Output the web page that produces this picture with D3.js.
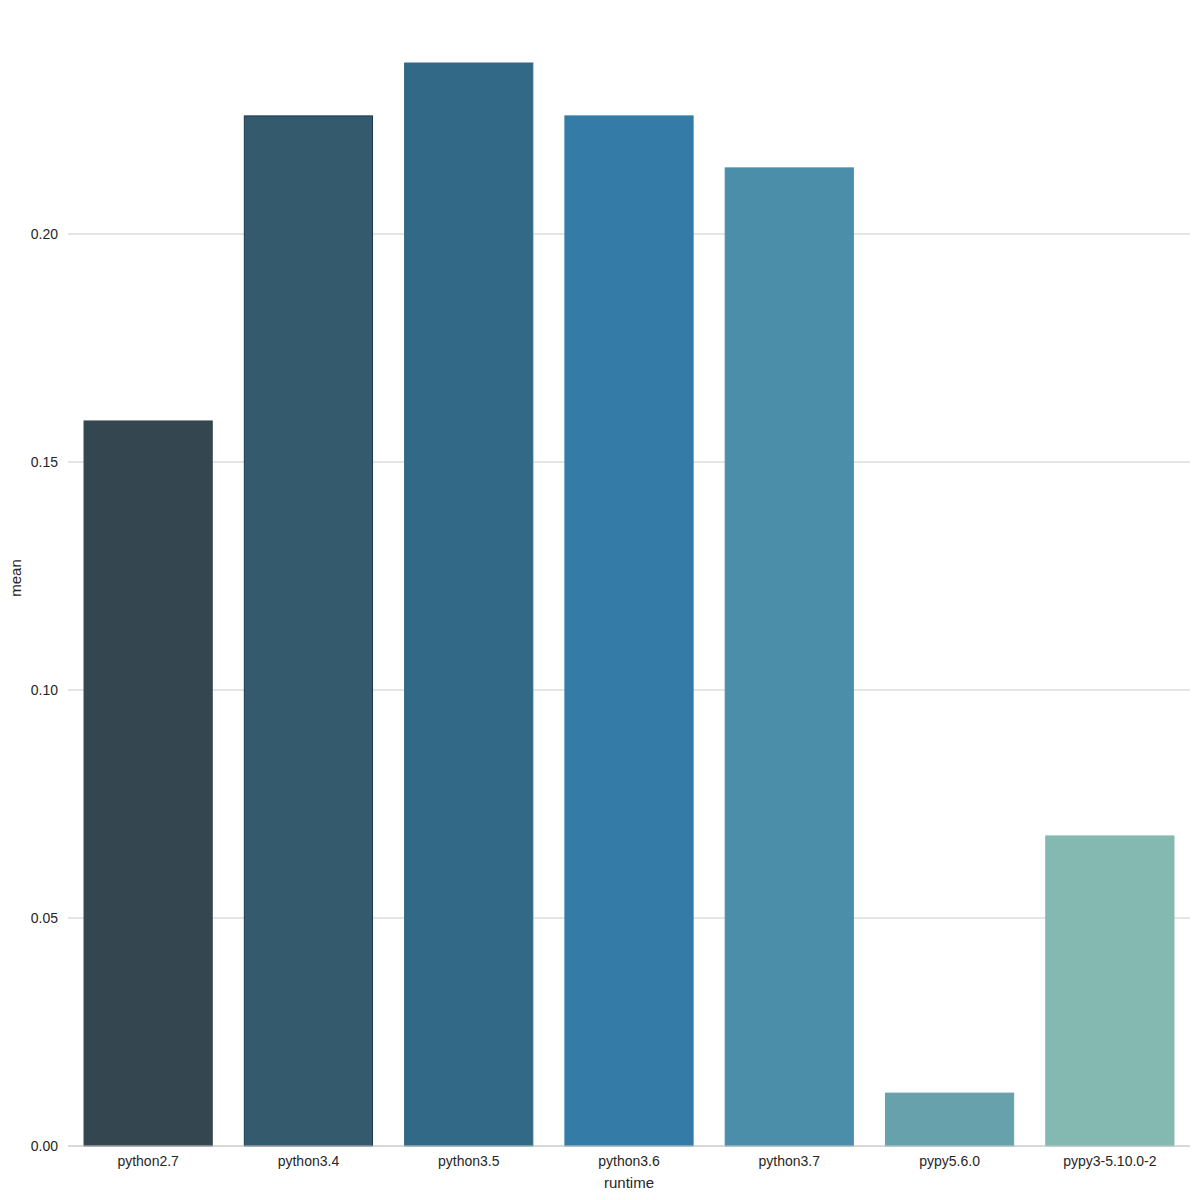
<!DOCTYPE html>
<html><head><meta charset="utf-8">
<script src="https://cdn.jsdelivr.net/npm/d3@7"></script>
<style>body{margin:0;background:#fff;} text{font-family:"Liberation Sans",Arial,sans-serif;}</style>
</head><body>
<svg id="chart" width="1200" height="1200"></svg>
<script>
const categories = ["python2.7","python3.4","python3.5","python3.6","python3.7","pypy5.6.0","pypy3-5.10.0-2"];
const means = [0.1590, 0.2259, 0.2375, 0.2259, 0.2145, 0.0116, 0.0680];
const barColors = ["#34464f","#335a6d","#326987","#347ca7","#4a8eaa","#67a1ab","#83b9b0"];
const edgeColors = ["#34464f","#1b3550","#326987","#347ca7","#4a8eaa","#67a1ab","#83b9b0"];
const yTicks = [0.00,0.05,0.10,0.15,0.20];

const svg = d3.select("#chart");
const m = {left:68, right:1190, top:20, bottom:1146};
const x = d3.scaleBand().domain(categories).range([m.left, m.right]).paddingInner(0.2).paddingOuter(0.1);
const y = d3.scaleLinear().domain([0, 0.20]).range([m.bottom, 234]);

// grid
svg.append("g").selectAll("line").data(yTicks).join("line")
  .attr("x1", m.left).attr("x2", m.right)
  .attr("y1", d=>y(d)).attr("y2", d=>y(d))
  .attr("stroke", "#cccccc").attr("stroke-width", 1.2);

// bars
svg.append("g").selectAll("rect").data(categories).join("rect")
  .attr("x", d=>x(d)).attr("width", x.bandwidth())
  .attr("y", (d,i)=>y(means[i])).attr("height", (d,i)=>y(0)-y(means[i]))
  .attr("fill", (d,i)=>barColors[i])
  .attr("stroke", (d,i)=>edgeColors[i]).attr("stroke-width", 1);

// bottom spine
svg.append("line").attr("x1", m.left).attr("x2", m.right).attr("y1", y(0)).attr("y2", y(0))
  .attr("stroke", "#cccccc").attr("stroke-width", 1.2);

// y axis
const yAxis = d3.axisLeft(y).tickValues(yTicks).tickFormat(d3.format(".2f")).tickSize(0).tickPadding(10);
const ya = svg.append("g").attr("transform", `translate(${m.left},0)`).call(yAxis);
ya.select(".domain").remove();
ya.selectAll("text").attr("font-size", 14).attr("fill", "#262626").attr("font-family", '"Liberation Sans",Arial,sans-serif');

// x axis
const xAxis = d3.axisBottom(x).tickSize(0).tickPadding(10);
const xa = svg.append("g").attr("transform", `translate(0,${m.bottom})`).call(xAxis);
xa.select(".domain").remove();
xa.selectAll("text").attr("font-size", 14).attr("fill", "#262626").attr("font-family", '"Liberation Sans",Arial,sans-serif');

svg.append("text").attr("x", (m.left+m.right)/2).attr("y", 1188).attr("text-anchor","middle")
  .attr("font-size", 15).attr("fill","#262626").text("runtime");
svg.append("text").attr("transform", "translate(21,578) rotate(-90)").attr("text-anchor","middle")
  .attr("font-size", 15).attr("fill","#262626").text("mean");
</script>
</body></html>
